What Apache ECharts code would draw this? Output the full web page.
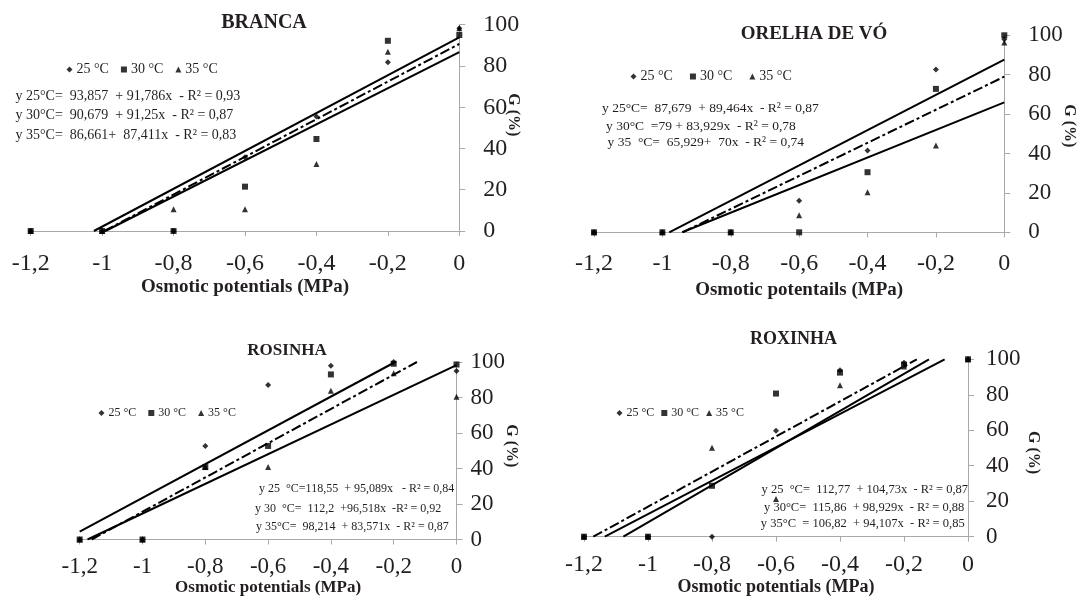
<!DOCTYPE html>
<html>
<head>
<meta charset="utf-8">
<script src="https://cdn.jsdelivr.net/npm/echarts@6/dist/echarts.min.js"></script>
<style>html,body{margin:0;padding:0;background:#fff}#c{width:1082px;height:598px}</style>
</head>
<body>
<div id="c"></div>
<script>
// ---------------- DATA ----------------
const xValues = [-1.2, -1, -0.8, -0.6, -0.4, -0.2, 0];
const xTickLabels = ['-1,2', '-1', '-0,8', '-0,6', '-0,4', '-0,2', '0'];
const yTickLabels = ['0', '20', '40', '60', '80', '100'];
const panelTitles = ['BRANCA', 'ORELHA DE VÓ', 'ROSINHA', 'ROXINHA'];
const xAxisNames = ['Osmotic potentials (MPa)', 'Osmotic potentails (MPa)', 'Osmotic potentials (MPa)', 'Osmotic potentials (MPa)'];
const yAxisName = 'G (%)';
const seriesNames = ['25 °C', '30 °C', '35 °C'];

// germination (%) per osmotic potential, one array per temperature
const branca25 = [0, 0, 0, 35.7, 55.5, 81.8, 98.3];
const branca30 = [0, 0, 0, 21.5, 44.6, 92.2, 95];
const branca35 = [0, 0, 10.5, 10.5, 32.5, 86.9, 98.3];

const orelha25 = [0, 0, 0, 16, 41.5, 82.7, 98];
const orelha30 = [0, 0, 0, 0, 30.5, 72.8, 100];
const orelha35 = [0, 0, 0, 8.7, 20.3, 44, 96.3];

const rosinha25 = [0, 0, 52.7, 87, 97.9, 100, 95];
const rosinha30 = [0, 0, 40.8, 52.7, 93, 99, 98.6];
const rosinha35 = [0, 0, 40.8, 40.8, 83.8, 93.6, 80.4];

const roxinha25 = [0, 0, 0, 59.7, 93.8, 98, 100];
const roxinha30 = [0, 0, 28.7, 80.7, 92.5, 97, 100];
const roxinha35 = [0, 0, 50.2, 21.3, 85.4, 96, 100];

// fitted trend lines: [start point, end point] as drawn
const brancaFit25 = [[-1.023, 0], [0, 93.86]];
const brancaFit30 = [[-0.994, 0], [0, 90.68]];
const brancaFit35 = [[-0.991, 0], [0, 86.66]];
const orelhaFit25 = [[-0.980, 0], [0, 87.68]];
const orelhaFit30 = [[-0.941, 0], [0, 79]];
const orelhaFit35 = [[-0.942, 0], [0, 65.93]];
const rosinhaFit25 = [[-1.2, 4.44], [-0.195, 100]];
const rosinhaFit30 = [[-1.162, 0], [-0.126, 100]];
const rosinhaFit35 = [[-1.175, 0], [0, 98.21]];
const roxinhaFit25 = [[-1.077, 0], [-0.122, 100]];
const roxinhaFit30 = [[-1.171, 0], [-0.160, 100]];
const roxinhaFit35 = [[-1.135, 0], [-0.073, 100]];

const brancaEq = ['y 25°C=  93,857  + 91,786x  - R² = 0,93', 'y 30°C=  90,679  + 91,25x  - R² = 0,87', 'y 35°C=  86,661+  87,411x  - R² = 0,83'];
const orelhaEq = ['y 25°C=  87,679  + 89,464x  - R² = 0,87', 'y 30°C  =79 + 83,929x  - R² = 0,78', 'y 35  °C=  65,929+  70x  - R² = 0,74'];
const rosinhaEq = ['y 25  °C=118,55  + 95,089x   - R² = 0,84', 'y 30  °C=  112,2  +96,518x  -R² = 0,92', 'y 35°C=  98,214  + 83,571x  - R² = 0,87'];
const roxinhaEq = ['y 25  °C=  112,77  + 104,73x  - R² = 0,87', 'y 30°C=  115,86  + 98,929x  - R² = 0,88', 'y 35°C  = 106,82  + 94,107x  - R² = 0,85'];

const panelPoints = [[branca25, branca30, branca35], [orelha25, orelha30, orelha35], [rosinha25, rosinha30, rosinha35], [roxinha25, roxinha30, roxinha35]];
const panelFits = [[brancaFit25, brancaFit30, brancaFit35], [orelhaFit25, orelhaFit30, orelhaFit35], [rosinhaFit25, rosinhaFit30, rosinhaFit35], [roxinhaFit25, roxinhaFit30, roxinhaFit35]];
const panelEqs = [brancaEq, orelhaEq, rosinhaEq, roxinhaEq];

// ---------------- LAYOUT / STYLE ----------------
const FONT = '"Liberation Serif", "Times New Roman", serif';
const TXT = '#231f20';
const AXIS = '#a9a9a9';
const layout = [
  { grid: { left: 30.7, top: 24.7, width: 428.6, height: 206.3 }, title: { x: 264, y: 13, size: 20 },
    legend: { left: 66.5, top: 62.5, size: 14, gap: 12 }, eq: { x: [15.5, 15.5, 15.5], y: [96.7, 115.7, 135], size: 14 },
    xLab: { size: 24, margin: 21 }, yLab: { size: 24, margin: 24 }, xName: { size: 19, gap: 47 }, yName: { size: 16, gap: 46, pad: [0, 26, 0, 0] } },
  { grid: { left: 594, top: 35.3, width: 410.3, height: 197 }, title: { x: 814, y: 25, size: 19 },
    legend: { left: 630.5, top: 69.5, size: 14, gap: 17 }, eq: { x: [602, 606, 607.5], y: [108.3, 126.7, 142.7], size: 13.5 },
    xLab: { size: 24, margin: 19 }, yLab: { size: 23, margin: 24 }, xName: { size: 19, gap: 48 }, yName: { size: 16, gap: 57, pad: [0, 16, 0, 0] } },
  { grid: { left: 79.7, top: 362, width: 376.8, height: 177.5 }, title: { x: 287, y: 342, size: 17 },
    legend: { left: 98.5, top: 407, size: 12, gap: 12 }, eq: { x: [259, 255, 256], y: [489.3, 509, 526.7], size: 12 },
    xLab: { size: 23, margin: 16 }, yLab: { size: 23, margin: 14 }, xName: { size: 17, gap: 40 }, yName: { size: 16, gap: 47, pad: [0, 10, 0, 0] } },
  { grid: { left: 584, top: 359.3, width: 384, height: 177.4 }, title: { x: 793.5, y: 330, size: 18 },
    legend: { left: 616.5, top: 407, size: 12, gap: 7 }, eq: { x: [761.5, 764, 760.8], y: [490, 507.7, 524], size: 12.5 },
    xLab: { size: 24, margin: 16 }, yLab: { size: 23, margin: 18 }, xName: { size: 18, gap: 42 }, yName: { size: 16, gap: 57, pad: [0, 0, 0, 9] } }
];

const symbols = ['diamond', 'rect', 'triangle'];
const symbolSizes = [6, 6, 6];
const lineTypes = ['solid', [10, 3, 3, 3], 'solid'];

const grids = [], xAxes = [], yAxes = [], titles = [], legends = [], series = [], graphics = [];

layout.forEach((L, p) => {
  grids.push(Object.assign({ containLabel: false }, L.grid));
  xAxes.push({
    type: 'value', gridIndex: p, min: -1.2, max: 0, interval: 0.2,
    name: xAxisNames[p], nameLocation: 'middle', nameGap: L.xName.gap, nameMoveOverlap: false,
    nameTextStyle: { fontFamily: FONT, fontWeight: 'bold', fontSize: L.xName.size, color: TXT },
    axisLine: { show: true, onZero: false, lineStyle: { color: AXIS, width: 1 } },
    axisTick: { show: true, length: 5, lineStyle: { color: AXIS } },
    splitLine: { show: false },
    axisLabel: { fontFamily: FONT, fontSize: L.xLab.size, color: TXT, margin: L.xLab.margin, showMinLabel: true, showMaxLabel: true,
      formatter: v => xTickLabels[Math.round((v + 1.2) / 0.2)] }
  });
  yAxes.push({
    type: 'value', gridIndex: p, position: 'right', min: 0, max: 100, interval: 20,
    name: yAxisName, nameLocation: 'middle', nameRotate: -90, nameGap: L.yName.gap, nameMoveOverlap: false,
    nameTextStyle: { fontFamily: FONT, fontWeight: 'bold', fontSize: L.yName.size, color: TXT, padding: L.yName.pad },
    axisLine: { show: true, lineStyle: { color: AXIS, width: 1 } },
    axisTick: { show: true, length: 6, lineStyle: { color: AXIS } },
    splitLine: { show: false },
    axisLabel: { fontFamily: FONT, fontSize: L.yLab.size, color: TXT, margin: L.yLab.margin, showMinLabel: true, showMaxLabel: true,
      formatter: v => yTickLabels[Math.round(v / 20)] }
  });
  titles.push({
    text: panelTitles[p], left: L.title.x, top: L.title.y, textAlign: 'center', padding: 0,
    textStyle: { fontFamily: FONT, fontWeight: 'bold', fontSize: L.title.size, color: TXT }
  });
  legends.push({
    left: L.legend.left, top: L.legend.top, padding: 0, itemGap: L.legend.gap, itemWidth: 6, itemHeight: 6,
    selectedMode: false, orient: 'horizontal',
    textStyle: { fontFamily: FONT, fontSize: L.legend.size, color: TXT, padding: [0, 0, 0, -1] },
    data: seriesNames.map((n, i) => ({ name: n, icon: symbols[i], itemStyle: { color: '#000' } }))
  });
  seriesNames.forEach((n, i) => {
    series.push({
      type: 'scatter', name: n, xAxisIndex: p, yAxisIndex: p, symbol: symbols[i], symbolSize: symbolSizes[i],
      itemStyle: { color: '#000' }, z: 5,
      data: xValues.map((x, k) => [x, panelPoints[p][i][k]])
    });
    series.push({
      type: 'line', name: 'fit ' + p + ' ' + n, xAxisIndex: p, yAxisIndex: p, symbol: 'none', silent: true,
      lineStyle: { color: '#000', width: 2, type: lineTypes[i] }, z: 3,
      data: panelFits[p][i]
    });
  });
  panelEqs[p].forEach((t, j) => {
    graphics.push({
      type: 'text', x: L.eq.x[j], y: L.eq.y[j], silent: true,
      style: { text: t, font: L.eq.size + 'px ' + FONT, fill: TXT, textVerticalAlign: 'middle', verticalAlign: 'middle' }
    });
  });
});

const chart = echarts.init(document.getElementById('c'), null, { renderer: 'canvas' });
chart.setOption({
  animation: false,
  backgroundColor: '#fff',
  title: titles, legend: legends, grid: grids, xAxis: xAxes, yAxis: yAxes, series: series, graphic: graphics
});
</script>
</body>
</html>
